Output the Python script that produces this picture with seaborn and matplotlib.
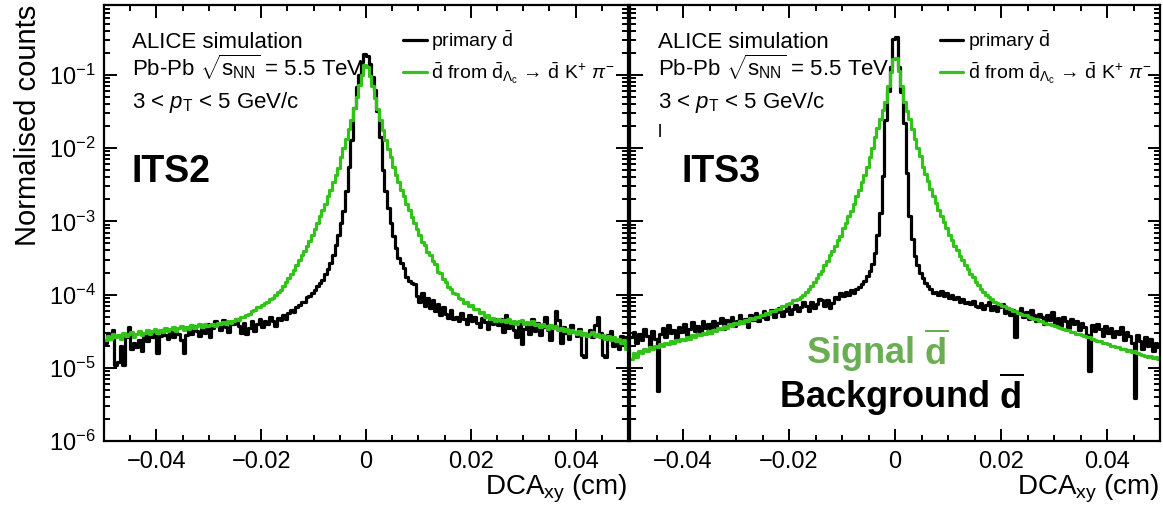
import numpy as np
import pandas as pd
import matplotlib
matplotlib.use("Agg")
import matplotlib.pyplot as plt
import seaborn as sns
from matplotlib.ticker import MultipleLocator, LogLocator, NullFormatter

# ---------------- data (200 bins, -0.05 .. 0.05 cm) ----------------
dca_range = (-0.05, 0.05)
n_bins = 200

its2_primary = [
    2.2e-5, 3.0e-5, 2.5e-5, 3.3e-5, 1.1e-5, 1.2e-5, 2.0e-5, 1.1e-5, 2.6e-5, 3.6e-5,
    1.8e-5, 2.2e-5, 1.9e-5, 2.4e-5, 1.7e-5, 2.8e-5, 2.3e-5, 3.0e-5, 2.6e-5, 2.9e-5,
    1.6e-5, 2.7e-5, 3.3e-5, 2.8e-5, 2.5e-5, 3.1e-5, 2.6e-5, 3.4e-5, 2.9e-5, 2.4e-5,
    1.6e-5, 2.8e-5, 3.4e-5, 2.9e-5, 3.7e-5, 3.2e-5, 2.7e-5, 3.6e-5, 3.0e-5, 4.0e-5,
    2.6e-5, 3.5e-5, 4.3e-5, 3.8e-5, 3.3e-5, 4.5e-5, 3.6e-5, 3.1e-5, 4.2e-5, 3.9e-5,
    4.6e-5, 3.7e-5, 3.0e-5, 4.1e-5, 2.9e-5, 3.5e-5, 4.4e-5, 3.2e-5, 4.0e-5, 4.6e-5,
    3.6e-5, 4.4e-5, 3.9e-5, 4.9e-5, 4.3e-5, 3.7e-5, 4.8e-5, 4.5e-5, 5.3e-5, 4.7e-5,
    5.6e-5, 6.2e-5, 5.8e-5, 6.8e-5, 7.2e-5, 8.0e-5, 7.9e-5, 9.2e-5, 9.6e-5, 1.05e-4,
    1.15e-4, 1.3e-4, 1.45e-4, 1.6e-4, 1.9e-4, 2.2e-4, 2.7e-4, 3.5e-4, 4.7e-4, 6.5e-4,
    9.5e-4, 1.4e-3, 2.6e-3, 5.5e-3, 1.3e-2, 3.5e-2, 6.8e-2, 0.10, 0.15, 0.19,
    0.18, 0.14, 0.095, 0.062, 0.032, 1.4e-2, 5.0e-3, 2.6e-3, 1.5e-3, 9.5e-4,
    6.3e-4, 4.3e-4, 3.2e-4, 2.7e-4, 2.3e-4, 1.75e-4, 1.55e-4, 1.45e-4, 1.4e-4, 9.5e-5,
    8.0e-5, 1.05e-4, 7.0e-5, 9.0e-5, 6.5e-5, 8.5e-5, 6.0e-5, 7.5e-5, 5.2e-5, 6.8e-5,
    5.5e-5, 4.8e-5, 6.2e-5, 4.6e-5, 5.0e-5, 4.4e-5, 5.6e-5, 4.7e-5, 3.9e-5, 5.3e-5,
    4.3e-5, 4.9e-5, 4.1e-5, 3.6e-5, 4.8e-5, 4.2e-5, 3.4e-5, 4.5e-5, 3.9e-5, 4.7e-5,
    3.8e-5, 4.6e-5, 3.1e-5, 5.2e-5, 3.5e-5, 4.2e-5, 3.3e-5, 2.6e-5, 4.0e-5, 2.1e-5,
    3.4e-5, 3.9e-5, 2.9e-5, 4.7e-5, 3.2e-5, 4.1e-5, 2.8e-5, 3.6e-5, 5.0e-5, 3.3e-5,
    2.4e-5, 3.5e-5, 5.9e-5, 4.5e-5, 2.2e-5, 3.6e-5, 3.0e-5, 2.5e-5, 3.8e-5, 3.1e-5,
    2.7e-5, 3.4e-5, 1.5e-5, 1.4e-5, 2.9e-5, 3.3e-5, 2.6e-5, 3.8e-5, 4.9e-5, 3.0e-5,
    1.5e-5, 1.4e-5, 2.8e-5, 3.2e-5, 2.0e-5, 2.4e-5, 1.8e-5, 2.7e-5, 2.3e-5, 2.6e-5,
]

its2_lambdac = [
    2.4e-5, 2.7e-5, 2.5e-5, 2.9e-5, 2.6e-5, 2.8e-5, 2.5e-5, 3.0e-5, 2.7e-5, 2.9e-5,
    3.1e-5, 2.6e-5, 2.9e-5, 3.2e-5, 2.8e-5, 3.0e-5, 3.3e-5, 2.9e-5, 3.2e-5, 3.4e-5,
    3.0e-5, 3.3e-5, 3.1e-5, 3.5e-5, 3.2e-5, 3.4e-5, 3.6e-5, 3.2e-5, 3.5e-5, 3.7e-5,
    3.3e-5, 3.6e-5, 3.4e-5, 3.8e-5, 3.5e-5, 3.7e-5, 4.0e-5, 3.6e-5, 3.9e-5, 3.7e-5,
    3.8e-5, 4.0e-5, 3.7e-5, 4.1e-5, 3.9e-5, 4.2e-5, 4.0e-5, 4.3e-5, 4.1e-5, 4.4e-5,
    4.6e-5, 4.5e-5, 4.9e-5, 4.9e-5, 5.3e-5, 5.4e-5, 5.9e-5, 6.1e-5, 6.7e-5, 6.8e-5,
    7.3e-5, 7.6e-5, 8.0e-5, 8.6e-5, 9.1e-5, 1.0e-4, 1.07e-4, 1.17e-4, 1.32e-4, 1.48e-4,
    1.7e-4, 1.9e-4, 2.14e-4, 2.5e-4, 2.95e-4, 3.5e-4, 3.9e-4, 4.6e-4, 5.4e-4, 6.5e-4,
    7.9e-4, 9.5e-4, 1.17e-3, 1.41e-3, 1.74e-3, 2.2e-3, 2.7e-3, 3.4e-3, 4.3e-3, 5.4e-3,
    7.6e-3, 1.0e-2, 1.35e-2, 1.8e-2, 2.45e-2, 3.5e-2, 5.0e-2, 7.2e-2, 0.10, 0.135,
    0.13, 0.098, 0.071, 0.049, 0.034, 0.024, 0.0175, 0.013, 0.0098, 0.0075,
    0.0055, 0.0043, 0.0034, 0.0027, 0.0022, 0.00172, 0.00142, 0.00116, 0.00096, 0.00078,
    0.00066, 0.00053, 0.00047, 0.00038, 0.00035, 0.000285, 0.00026, 0.000205, 0.000195, 0.000165,
    0.00015, 0.000128, 0.00012, 0.000104, 0.000102, 8.9e-5, 8.8e-5, 7.7e-5, 7.8e-5, 7.0e-5,
    7.1e-5, 6.3e-5, 6.4e-5, 5.6e-5, 5.7e-5, 5.0e-5, 5.2e-5, 4.7e-5, 4.8e-5, 4.4e-5,
    4.6e-5, 4.3e-5, 4.5e-5, 4.2e-5, 4.6e-5, 4.1e-5, 4.4e-5, 4.0e-5, 4.3e-5, 4.5e-5,
    4.0e-5, 4.2e-5, 3.9e-5, 4.3e-5, 3.8e-5, 4.0e-5, 3.6e-5, 3.9e-5, 3.7e-5, 3.4e-5,
    3.8e-5, 3.5e-5, 3.7e-5, 3.3e-5, 3.5e-5, 3.2e-5, 3.4e-5, 3.0e-5, 3.3e-5, 3.1e-5,
    2.9e-5, 3.2e-5, 2.8e-5, 3.0e-5, 2.7e-5, 2.9e-5, 3.1e-5, 2.7e-5, 2.9e-5, 2.6e-5,
    2.8e-5, 2.5e-5, 2.7e-5, 2.4e-5, 2.6e-5, 2.3e-5, 2.5e-5, 2.2e-5, 2.4e-5, 1.8e-5,
]

its3_primary = [
    2.6e-5, 3.1e-5, 2.2e-5, 2.9e-5, 2.4e-5, 3.4e-5, 2.7e-5, 2.0e-5, 3.2e-5, 2.5e-5,
    4.8e-6, 2.9e-5, 3.5e-5, 2.6e-5, 3.8e-5, 3.0e-5, 3.3e-5, 2.4e-5, 3.6e-5, 3.1e-5,
    4.0e-5, 2.8e-5, 3.4e-5, 4.2e-5, 3.2e-5, 3.7e-5, 2.9e-5, 4.3e-5, 3.5e-5, 3.9e-5,
    3.0e-5, 4.4e-5, 3.6e-5, 4.1e-5, 4.8e-5, 3.4e-5, 4.5e-5, 3.9e-5, 5.0e-5, 3.7e-5,
    4.4e-5, 5.3e-5, 4.1e-5, 4.7e-5, 3.6e-5, 5.2e-5, 4.5e-5, 5.6e-5, 4.3e-5, 5.0e-5,
    5.9e-5, 4.6e-5, 5.4e-5, 6.2e-5, 4.9e-5, 5.7e-5, 6.6e-5, 5.1e-5, 6.0e-5, 7.0e-5,
    5.5e-5, 6.4e-5, 7.3e-5, 5.9e-5, 6.8e-5, 7.8e-5, 7.0e-5, 6.0e-5, 7.8e-5, 6.5e-5,
    7.5e-5, 8.8e-5, 8.3e-5, 7.0e-5, 8.5e-5, 6.6e-5, 7.6e-5, 9.4e-5, 8.8e-5, 1.05e-4,
    9.5e-5, 1.1e-4, 1.0e-4, 1.15e-4, 1.05e-4, 1.2e-4, 1.25e-4, 1.4e-4, 1.55e-4, 1.8e-4,
    2.1e-4, 2.6e-4, 3.7e-4, 6.5e-4, 1.3e-3, 4.2e-3, 0.024, 0.06, 0.13, 0.31,
    0.33, 0.13, 0.058, 0.022, 4.5e-3, 1.2e-3, 5.8e-4, 3.4e-4, 2.5e-4, 2.0e-4,
    1.7e-4, 1.45e-4, 1.3e-4, 1.2e-4, 1.05e-4, 1.1e-4, 1.0e-4, 1.12e-4, 9.6e-5, 1.05e-4,
    9.0e-5, 9.8e-5, 8.6e-5, 9.2e-5, 8.0e-5, 8.8e-5, 7.6e-5, 7.9e-5, 7.4e-5, 8.2e-5,
    7.0e-5, 6.8e-5, 7.6e-5, 6.4e-5, 7.3e-5, 8.0e-5, 6.2e-5, 7.0e-5, 5.9e-5, 6.8e-5,
    7.4e-5, 5.6e-5, 6.5e-5, 5.3e-5, 6.1e-5, 2.6e-5, 5.8e-5, 6.6e-5, 5.0e-5, 5.7e-5,
    4.7e-5, 6.2e-5, 5.3e-5, 4.4e-5, 5.5e-5, 4.9e-5, 3.9e-5, 5.2e-5, 4.5e-5, 5.8e-5,
    4.1e-5, 4.8e-5, 3.7e-5, 5.0e-5, 4.3e-5, 3.5e-5, 4.6e-5, 3.9e-5, 4.4e-5, 3.3e-5,
    4.1e-5, 3.6e-5, 2.8e-5, 9.0e-6, 3.8e-5, 3.2e-5, 4.0e-5, 3.4e-5, 2.7e-5, 3.7e-5,
    3.0e-5, 3.5e-5, 2.6e-5, 3.2e-5, 2.9e-5, 3.6e-5, 2.4e-5, 3.1e-5, 2.7e-5, 2.2e-5,
    3.9e-6, 2.8e-5, 2.3e-5, 1.8e-5, 2.6e-5, 2.0e-5, 2.5e-5, 1.7e-5, 2.2e-5, 1.9e-5,
]

its3_lambdac = [
    1.3e-5, 1.6e-5, 1.4e-5, 1.7e-5, 1.6e-5, 1.8e-5, 1.7e-5, 1.9e-5, 1.8e-5, 2.0e-5,
    1.9e-5, 2.1e-5, 2.0e-5, 2.2e-5, 2.1e-5, 2.3e-5, 2.2e-5, 2.4e-5, 2.3e-5, 2.5e-5,
    2.4e-5, 2.6e-5, 2.5e-5, 2.8e-5, 2.6e-5, 2.9e-5, 2.8e-5, 3.0e-5, 2.9e-5, 3.2e-5,
    3.0e-5, 3.3e-5, 3.2e-5, 3.5e-5, 3.4e-5, 3.7e-5, 3.5e-5, 3.9e-5, 3.7e-5, 4.1e-5,
    3.9e-5, 4.3e-5, 4.1e-5, 4.5e-5, 4.4e-5, 4.8e-5, 4.6e-5, 5.0e-5, 4.9e-5, 5.3e-5,
    5.2e-5, 5.6e-5, 5.5e-5, 6.0e-5, 5.9e-5, 6.4e-5, 6.4e-5, 6.9e-5, 7.0e-5, 7.5e-5,
    7.7e-5, 8.3e-5, 8.4e-5, 8.8e-5, 9.3e-5, 1.0e-4, 1.1e-4, 1.18e-4, 1.3e-4, 1.5e-4,
    1.68e-4, 1.92e-4, 2.12e-4, 2.52e-4, 2.9e-4, 3.45e-4, 3.95e-4, 4.55e-4, 5.5e-4, 6.4e-4,
    8.0e-4, 9.4e-4, 1.18e-3, 1.4e-3, 1.75e-3, 2.2e-3, 2.7e-3, 3.4e-3, 4.3e-3, 5.5e-3,
    7.5e-3, 1.0e-2, 1.4e-2, 1.9e-2, 2.5e-2, 3.3e-2, 4.3e-2, 7.1e-2, 0.11, 0.165,
    0.17, 0.112, 0.070, 0.042, 0.032, 0.025, 0.018, 0.0135, 0.0101, 0.0077,
    0.0056, 0.0044, 0.0035, 0.0028, 0.0022, 0.00176, 0.00143, 0.00118, 0.00097, 0.0008,
    0.00066, 0.00055, 0.00046, 0.0004, 0.00034, 0.0003, 0.00025, 0.00022, 0.00019, 0.000172,
    0.00015, 0.000135, 0.000118, 0.000108, 0.0001, 9.2e-5, 8.6e-5, 8.0e-5, 7.6e-5, 7.4e-5,
    7.0e-5, 6.9e-5, 6.5e-5, 6.4e-5, 6.0e-5, 5.9e-5, 5.6e-5, 5.5e-5, 5.2e-5, 5.2e-5,
    4.9e-5, 4.8e-5, 4.6e-5, 4.6e-5, 4.3e-5, 4.3e-5, 4.1e-5, 4.0e-5, 3.9e-5, 3.8e-5,
    3.7e-5, 3.6e-5, 3.5e-5, 3.4e-5, 3.3e-5, 3.3e-5, 3.1e-5, 3.1e-5, 2.9e-5, 2.9e-5,
    2.8e-5, 2.7e-5, 2.6e-5, 2.6e-5, 2.5e-5, 2.4e-5, 2.3e-5, 2.3e-5, 2.2e-5, 2.2e-5,
    2.1e-5, 2.0e-5, 2.0e-5, 1.9e-5, 1.9e-5, 1.8e-5, 1.8e-5, 1.7e-5, 1.75e-5, 1.65e-5,
    1.7e-5, 1.6e-5, 1.55e-5, 1.5e-5, 1.45e-5, 1.4e-5, 1.45e-5, 1.35e-5, 1.4e-5, 1.3e-5,
]

panel_names = ["ITS2", "ITS3"]
x_ticks = [-0.04, -0.02, 0, 0.02, 0.04]
x_ticklabels = ["\u22120.04", "\u22120.02", "0", "0.02", "0.04"]
y_ticks = [1e-6, 1e-5, 1e-4, 1e-3, 1e-2, 1e-1]
y_ticklabels = ["$10^{\u22126}$", "$10^{\u22125}$", "$10^{\u22124}$",
                "$10^{\u22123}$", "$10^{\u22122}$", "$10^{\u22121}$"]

# ---------------- style ----------------
sns.set_theme(style="ticks")
plt.rcParams["font.family"] = ["Liberation Sans", "DejaVu Sans"]
plt.rcParams["mathtext.fontset"] = "custom"
plt.rcParams["mathtext.rm"] = "Liberation Sans"
plt.rcParams["mathtext.it"] = "Liberation Sans:italic"
plt.rcParams["mathtext.bf"] = "Liberation Sans:bold"
plt.rcParams["axes.linewidth"] = 1.6
for key in ["text.color", "axes.labelcolor", "xtick.color", "ytick.color",
            "axes.edgecolor", "xtick.labelcolor", "ytick.labelcolor"]:
    plt.rcParams[key] = "black"

GREEN = "#33c21a"
SIGNAL_GREEN = "#6aad52"

edges = np.linspace(dca_range[0], dca_range[1], n_bins + 1)
centers = 0.5 * (edges[:-1] + edges[1:])
bin_list = edges.tolist()

fig = plt.figure(figsize=(11.63, 5.14), dpi=100)
ax1 = fig.add_axes([104 / 1163, 1 - 441 / 514, 524 / 1163, 436 / 514])
ax2 = fig.add_axes([630 / 1163, 1 - 441 / 514, 530 / 1163, 436 / 514])

leg_primary = "primary $\\bar{\\mathrm{d}}$"
leg_lc = ("$\\bar{\\mathrm{d}}$ from $\\bar{\\mathrm{d}}_{\\Lambda_{\\mathrm{c}}}$ \u2192 "
          "$\\bar{\\mathrm{d}}$ K$^{+}$ $\\pi^{-}$")

TXT = 16
LEG = 14

for ax, prim, lc, legx in [(ax1, its2_primary, its2_lambdac, 0.571),
                           (ax2, its3_primary, its3_lambdac, 0.585)]:
    df = pd.DataFrame({"dca": centers, "primary": prim, "lambdac": lc})
    sns.histplot(data=df, x="dca", weights="primary", bins=bin_list, element="step",
                 fill=False, color="black", linewidth=2.3, ax=ax, label=leg_primary)
    sns.histplot(data=df, x="dca", weights="lambdac", bins=bin_list, element="step",
                 fill=False, color=GREEN, linewidth=2.3, ax=ax, label=leg_lc)
    ax.set_yscale("log")
    ax.set_ylim(1e-6, 0.9)
    ax.set_xlim(*dca_range)
    ax.set_xticks(x_ticks)
    ax.set_xticklabels(x_ticklabels)
    ax.set_yticks(y_ticks)
    ax.set_yticklabels(y_ticklabels)
    ax.xaxis.set_minor_locator(MultipleLocator(0.005))
    ax.yaxis.set_minor_locator(LogLocator(base=10, subs=np.arange(2, 10), numticks=20))
    ax.yaxis.set_minor_formatter(NullFormatter())
    ax.tick_params(which="both", direction="in", top=True, right=True,
                   width=1.4, colors="black")
    ax.tick_params(which="major", length=9)
    ax.tick_params(which="minor", length=4.5)
    ax.tick_params(axis="x", labelsize=17, pad=7)
    ax.tick_params(axis="y", labelsize=17, pad=6)
    ax.set_xlabel("DCA$_{\\mathrm{xy}}$ (cm)", loc="right", fontsize=20, labelpad=0)
    ax.set_ylabel("")

    ax.text(0.053, 0.901, "ALICE simulation", transform=ax.transAxes, fontsize=TXT,
            va="baseline", ha="left")
    ax.text(0.053, 0.837, "Pb-Pb $\\sqrt{\\mathrm{s}_{\\mathrm{NN}}}$ = 5.5 TeV",
            transform=ax.transAxes, fontsize=TXT, va="baseline", ha="left")
    ax.text(0.053, 0.764, "3 < $p_{\\mathrm{T}}$ < 5 GeV/c", transform=ax.transAxes,
            fontsize=TXT, va="baseline", ha="left")
    ax.legend(loc="upper left", bbox_to_anchor=(legx, 0.946), frameon=False,
              fontsize=LEG, handlelength=1.2, handletextpad=0.25,
              labelspacing=0.35, borderaxespad=0, borderpad=0)

ax1.text(0.053, 0.594, panel_names[0], transform=ax1.transAxes, fontsize=27,
         fontweight="bold", va="baseline", ha="left")
ax2.text(0.098, 0.594, panel_names[1], transform=ax2.transAxes, fontsize=27,
         fontweight="bold", va="baseline", ha="left")
ax2.text(0.053, 0.697, "l", transform=ax2.transAxes, fontsize=13, va="baseline", ha="left")
ax2.text(0.466, 0.177, "Signal $\\overline{\\mathbf{d}}$", transform=ax2.transAxes,
         fontsize=26, fontweight="bold", color=SIGNAL_GREEN, va="baseline", ha="center")
ax2.text(0.512, 0.076, "Background $\\overline{\\mathbf{d}}$", transform=ax2.transAxes,
         fontsize=26, fontweight="bold", color="black", va="baseline", ha="center")

ax1.set_ylabel("Normalised counts", fontsize=21, loc="top", labelpad=5)
ax2.set_yticklabels([])

fig.savefig("out.png", dpi=100)
